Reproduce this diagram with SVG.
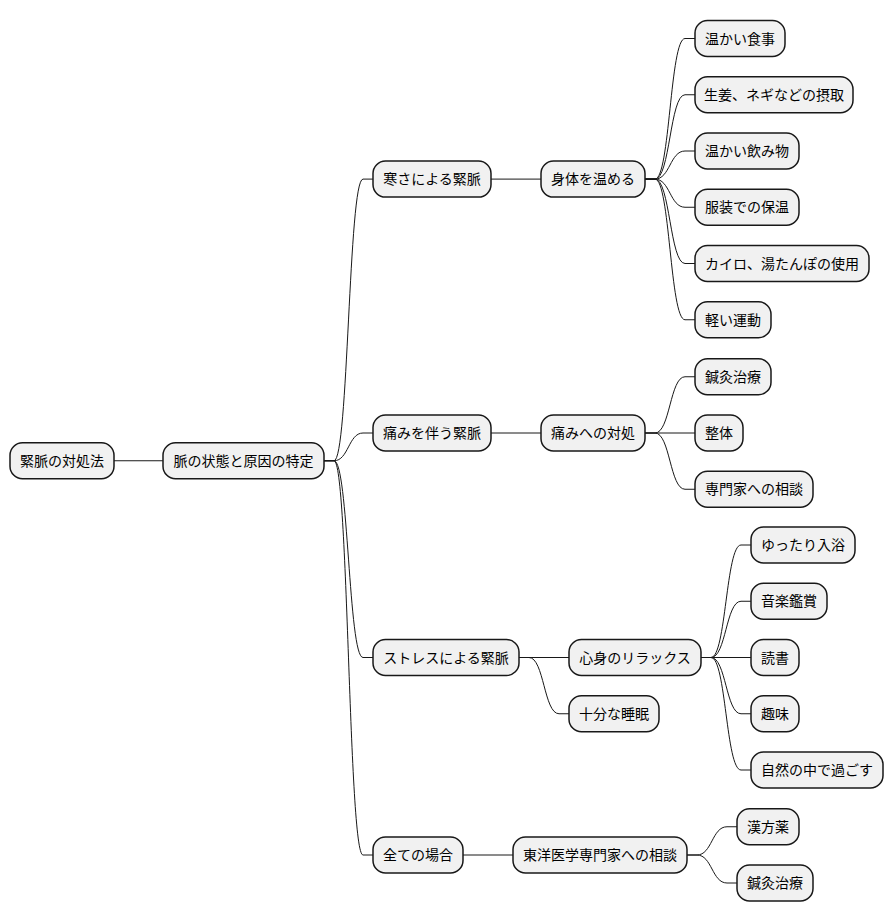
<svg xmlns="http://www.w3.org/2000/svg" width="894" height="921" viewBox="0 0 894 921">
<style>
.n rect{fill:#F1F1F1;stroke:#181818;stroke-width:1.5}
.n text{font-family:"Noto Sans CJK JP","Noto Sans",sans-serif;font-size:14px;fill:#000000}
#connectors path{fill:none;stroke:#181818;stroke-width:1}
</style>
<rect width="894" height="921" fill="#FFFFFF"/>
<g id="connectors">
<path d="M114,460.75 L163,460.75"/>
<path d="M324,460.75 L334,460.75 C348.5,460.75 348.5,179.1 363,179.1 L373,179.1"/>
<path d="M324,460.75 L334,460.75 C348.5,460.75 348.5,433 363,433 L373,433"/>
<path d="M324,460.75 L334,460.75 C348.5,460.75 348.5,657.5 363,657.5 L373,657.5"/>
<path d="M324,460.75 L334,460.75 C348.5,460.75 348.5,855 363,855 L373,855"/>
<path d="M491,179.1 L541,179.1"/>
<path d="M491,433 L541,433"/>
<path d="M519,657.5 L569,657.5"/>
<path d="M519,657.5 L529,657.5 C544,657.5 544,713.75 559,713.75 L569,713.75"/>
<path d="M463,855 L513,855"/>
<path d="M645,179.1 L655,179.1 C670,179.1 670,38.5 685,38.5 L695,38.5"/>
<path d="M645,179.1 L655,179.1 C670,179.1 670,94.75 685,94.75 L695,94.75"/>
<path d="M645,179.1 L655,179.1 C670,179.1 670,151 685,151 L695,151"/>
<path d="M645,179.1 L655,179.1 C670,179.1 670,207.25 685,207.25 L695,207.25"/>
<path d="M645,179.1 L655,179.1 C670,179.1 670,263.5 685,263.5 L695,263.5"/>
<path d="M645,179.1 L655,179.1 C670,179.1 670,319.75 685,319.75 L695,319.75"/>
<path d="M645,433 L655,433 C670,433 670,376.75 685,376.75 L695,376.75"/>
<path d="M645,433 L695,433"/>
<path d="M645,433 L655,433 C670,433 670,489.25 685,489.25 L695,489.25"/>
<path d="M701,657.5 L711,657.5 C726,657.5 726,545 741,545 L751,545"/>
<path d="M701,657.5 L711,657.5 C726,657.5 726,601.25 741,601.25 L751,601.25"/>
<path d="M701,657.5 L751,657.5"/>
<path d="M701,657.5 L711,657.5 C726,657.5 726,713.75 741,713.75 L751,713.75"/>
<path d="M701,657.5 L711,657.5 C726,657.5 726,770 741,770 L751,770"/>
<path d="M687,855 L697,855 C712,855 712,826.75 727,826.75 L737,826.75"/>
<path d="M687,855 L697,855 C712,855 712,883 727,883 L737,883"/>
</g>
<g id="root" class="n"><rect x="10" y="442.75" width="104" height="36" rx="12.5"/><text x="62" y="465.75" text-anchor="middle">緊脈の対処法</text></g>
<g id="n1" class="n"><rect x="163" y="442.75" width="161" height="36" rx="12.5"/><text x="243.5" y="465.75" text-anchor="middle">脈の状態と原因の特定</text></g>
<g id="a" class="n"><rect x="373" y="161.1" width="118" height="36" rx="12.5"/><text x="432" y="184.1" text-anchor="middle">寒さによる緊脈</text></g>
<g id="b" class="n"><rect x="373" y="415" width="118" height="36" rx="12.5"/><text x="432" y="438" text-anchor="middle">痛みを伴う緊脈</text></g>
<g id="c" class="n"><rect x="373" y="639.5" width="146" height="36" rx="12.5"/><text x="446" y="662.5" text-anchor="middle">ストレスによる緊脈</text></g>
<g id="d" class="n"><rect x="373" y="837" width="90" height="36" rx="12.5"/><text x="418" y="860" text-anchor="middle">全ての場合</text></g>
<g id="a1" class="n"><rect x="541" y="161.1" width="104" height="36" rx="12.5"/><text x="593" y="184.1" text-anchor="middle">身体を温める</text></g>
<g id="b1" class="n"><rect x="541" y="415" width="104" height="36" rx="12.5"/><text x="593" y="438" text-anchor="middle">痛みへの対処</text></g>
<g id="c1" class="n"><rect x="569" y="639.5" width="132" height="36" rx="12.5"/><text x="635" y="662.5" text-anchor="middle">心身のリラックス</text></g>
<g id="c2" class="n"><rect x="569" y="695.75" width="90" height="36" rx="12.5"/><text x="614" y="718.75" text-anchor="middle">十分な睡眠</text></g>
<g id="d1" class="n"><rect x="513" y="837" width="174" height="36" rx="12.5"/><text x="600" y="860" text-anchor="middle">東洋医学専門家への相談</text></g>
<g id="a1-1" class="n"><rect x="695" y="20.5" width="90" height="36" rx="12.5"/><text x="740" y="43.5" text-anchor="middle">温かい食事</text></g>
<g id="a1-2" class="n"><rect x="695" y="76.75" width="158" height="36" rx="12.5"/><text x="774" y="99.75" text-anchor="middle">生姜、ネギなどの摂取</text></g>
<g id="a1-3" class="n"><rect x="695" y="133" width="104" height="36" rx="12.5"/><text x="747" y="156" text-anchor="middle">温かい飲み物</text></g>
<g id="a1-4" class="n"><rect x="695" y="189.25" width="104" height="36" rx="12.5"/><text x="747" y="212.25" text-anchor="middle">服装での保温</text></g>
<g id="a1-5" class="n"><rect x="695" y="245.5" width="174" height="36" rx="12.5"/><text x="782" y="268.5" text-anchor="middle">カイロ、湯たんぽの使用</text></g>
<g id="a1-6" class="n"><rect x="695" y="301.75" width="76" height="36" rx="12.5"/><text x="733" y="324.75" text-anchor="middle">軽い運動</text></g>
<g id="b1-1" class="n"><rect x="695" y="358.75" width="76" height="36" rx="12.5"/><text x="733" y="381.75" text-anchor="middle">鍼灸治療</text></g>
<g id="b1-2" class="n"><rect x="695" y="415" width="48" height="36" rx="12.5"/><text x="719" y="438" text-anchor="middle">整体</text></g>
<g id="b1-3" class="n"><rect x="695" y="471.25" width="118" height="36" rx="12.5"/><text x="754" y="494.25" text-anchor="middle">専門家への相談</text></g>
<g id="c1-1" class="n"><rect x="751" y="527" width="104" height="36" rx="12.5"/><text x="803" y="550" text-anchor="middle">ゆったり入浴</text></g>
<g id="c1-2" class="n"><rect x="751" y="583.25" width="76" height="36" rx="12.5"/><text x="789" y="606.25" text-anchor="middle">音楽鑑賞</text></g>
<g id="c1-3" class="n"><rect x="751" y="639.5" width="48" height="36" rx="12.5"/><text x="775" y="662.5" text-anchor="middle">読書</text></g>
<g id="c1-4" class="n"><rect x="751" y="695.75" width="48" height="36" rx="12.5"/><text x="775" y="718.75" text-anchor="middle">趣味</text></g>
<g id="c1-5" class="n"><rect x="751" y="752" width="132" height="36" rx="12.5"/><text x="817" y="775" text-anchor="middle">自然の中で過ごす</text></g>
<g id="d1-1" class="n"><rect x="737" y="808.75" width="62" height="36" rx="12.5"/><text x="768" y="831.75" text-anchor="middle">漢方薬</text></g>
<g id="d1-2" class="n"><rect x="737" y="865" width="76" height="36" rx="12.5"/><text x="775" y="888" text-anchor="middle">鍼灸治療</text></g>
</svg>
